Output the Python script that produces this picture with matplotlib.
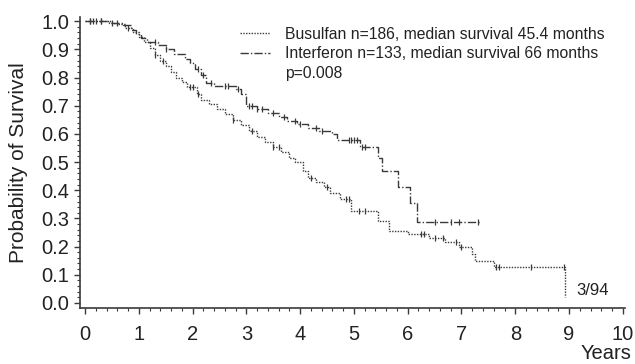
import numpy as np
import matplotlib
matplotlib.use("Agg")
import matplotlib.pyplot as plt
from matplotlib.lines import Line2D
from matplotlib.ticker import MultipleLocator

plt.rcParams['font.family'] = ['Liberation Sans', 'DejaVu Sans']

# Busulfan (Kaplan-Meier step points: time in years, survival after step)
bus_t = [0, 0.45, 0.6, 0.75, 0.9, 1.0, 1.1, 1.2, 1.3, 1.4, 1.5, 1.6, 1.7, 1.8, 1.9,
         2.08, 2.15, 2.3, 2.45, 2.6, 2.75, 2.9, 3.05, 3.2, 3.35, 3.5, 3.65, 3.8, 3.9,
         4.05, 4.15, 4.3, 4.45, 4.55, 4.75, 4.95, 5.45, 5.65, 6.0, 6.4, 6.7, 6.95,
         7.2, 7.25, 7.6, 8.93]
bus_s = [1.0, 0.995, 0.99, 0.975, 0.96, 0.945, 0.925, 0.905, 0.88, 0.86, 0.84, 0.82,
         0.80, 0.785, 0.765, 0.74, 0.72, 0.705, 0.69, 0.67, 0.65, 0.63, 0.61, 0.59,
         0.57, 0.555, 0.535, 0.515, 0.50, 0.47, 0.445, 0.43, 0.41, 0.39, 0.37, 0.325,
         0.29, 0.255, 0.243, 0.232, 0.215, 0.20, 0.172, 0.148, 0.126, 0.02]
bus_end = 8.93
bus_cens = [0.1, 0.2, 0.3, 0.5, 0.8, 1.3, 1.45, 1.95, 2.0, 2.1, 2.75, 3.1, 3.5, 3.6,
            4.2, 4.5, 4.85, 4.9, 5.1, 5.2, 6.25, 6.3, 6.5, 6.65, 6.9, 7.0, 7.65,
            7.7, 8.3, 8.9]

# Interferon
ifn_t = [0, 0.5, 0.7, 0.85, 0.95, 1.05, 1.15, 1.35, 1.5, 1.65, 1.85, 1.95, 2.05, 2.15,
         2.25, 2.4, 2.8, 2.9, 3.0, 3.2, 3.4, 3.6, 3.75, 3.95, 4.15, 4.35, 4.6, 4.68,
         5.12, 5.45, 5.52, 5.82, 6.04, 6.17]
ifn_s = [1.0, 0.995, 0.985, 0.97, 0.955, 0.94, 0.925, 0.915, 0.90, 0.885, 0.865, 0.85,
         0.83, 0.81, 0.78, 0.77, 0.76, 0.74, 0.70, 0.69, 0.675, 0.66, 0.645, 0.635,
         0.62, 0.61, 0.598, 0.58, 0.555, 0.515, 0.468, 0.413, 0.356, 0.288]
ifn_end = 7.34
ifn_cens = [0.1, 0.15, 0.3, 0.6, 1.3, 1.5, 2.1, 2.2, 2.35, 2.6, 2.65, 2.85, 3.05, 3.1,
            3.2, 3.3, 3.5, 3.7, 3.9, 4.0, 4.3, 4.4, 4.9, 4.95, 5.0, 5.05, 5.15, 5.2,
            6.5, 6.8, 6.95, 7.3]

legend_labels = ["Busulfan n=186, median survival 45.4 months",
                 "Interferon n=133, median survival 66 months",
                 "p=0.008"]

col = '#3a3a3a'
fig = plt.figure(figsize=(6.35, 3.64), dpi=100)
ax = fig.add_axes([80/635, 1-308/364, 545/635, 291/364])


def km(ax, t, s, end, cens, ls):
    tt = list(t) + [end]
    ss = list(s) + [s[-1]]
    line, = ax.plot(tt, ss, drawstyle='steps-post', color=col, lw=1.0, ls=ls)
    idx = np.searchsorted(np.array(t), np.array(cens), side='right') - 1
    ax.plot(cens, np.array(s)[idx], ls='none', marker='|', ms=5, mew=0.9, color=col)
    return line


l1 = km(ax, bus_t, bus_s, bus_end, bus_cens, (0, (1, 1)))
l2 = km(ax, ifn_t, ifn_s, ifn_end, ifn_cens, (0, (6, 1.5, 1, 1.5)))

ax.set_xlim(-0.093, 10.04)
ax.set_ylim(-0.018, 1.015)
ax.spines['top'].set_visible(False)
ax.spines['right'].set_visible(False)
for sp in ('left', 'bottom'):
    ax.spines[sp].set_color(col)
    ax.spines[sp].set_linewidth(1.2)

ax.set_xticks(range(0, 11))
ax.set_yticks(np.round(np.arange(0, 1.01, 0.1), 1))
ax.set_yticklabels([f"{v:.1f}" for v in np.arange(0, 1.01, 0.1)])
ax.xaxis.set_minor_locator(MultipleLocator(0.2))
ax.yaxis.set_minor_locator(MultipleLocator(0.02))
ax.tick_params(axis='both', which='major', length=4, width=1, color=col,
               labelsize=14.5, labelcolor='#222222')
ax.tick_params(axis='x', which='major', pad=8)
ax.tick_params(axis='y', which='major', pad=4)
ax.tick_params(axis='both', which='minor', length=2, width=0.8, color=col)

ax.set_ylabel("Probability of Survival", fontsize=15, color='#222222', labelpad=9)
ax.text(1.0 + 6/545, -0.125, "Years", transform=ax.transAxes, ha='right', va='top',
        fontsize=14.5, color='#222222')
ax.text(8.93 + 0.2, 0.043, "3/94", fontsize=12, color='#222222', ha='left', va='center')

blank = Line2D([], [], color='none')
leg = ax.legend([l1, l2, blank], legend_labels, loc='upper left',
                bbox_to_anchor=(240/635, 1-27/364), bbox_transform=fig.transFigure,
                frameon=False, fontsize=11.35, handlelength=1.9, handletextpad=0.95,
                labelspacing=0.28, borderaxespad=0, borderpad=0)
for t in leg.get_texts():
    t.set_color('#222222')

fig.savefig("out.png", dpi=100)
